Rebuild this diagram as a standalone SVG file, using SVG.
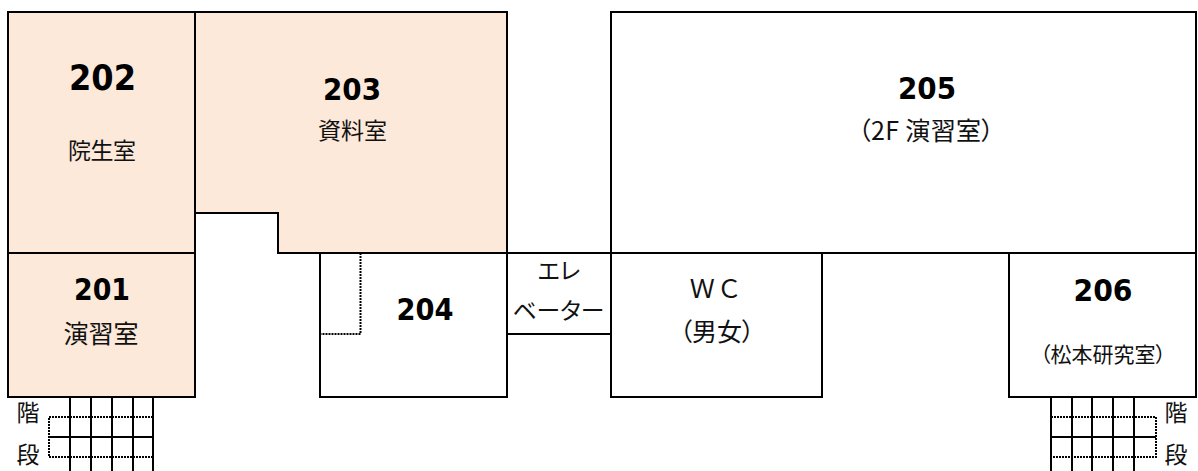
<svg xmlns="http://www.w3.org/2000/svg" width="1198" height="471" viewBox="0 0 1198 471">
<style>
.w{fill:none;stroke:#000;stroke-width:2}
.room{stroke:#000;stroke-width:2}
.f{fill:#fce9da}
.d{fill:none;stroke:#000;stroke-width:2;stroke-dasharray:2 1}
text{font-family:"DejaVu Sans","Noto Sans CJK JP",sans-serif;fill:#111;text-anchor:middle}
.b{font-weight:700;font-size:31px;fill:#000}
.j{font-family:"Noto Sans CJK JP",sans-serif;font-weight:400;font-size:23px;font-feature-settings:"palt"}
.k{font-size:25px}
</style>
<rect width="1198" height="471" fill="#fff"/>
<g id="room-202"><rect class="room f" x="8" y="12" width="187" height="241"/><text class="b" x="102.500" y="90" style="font-size:35px" textLength="67" lengthAdjust="spacingAndGlyphs">202</text><text class="j" x="102" y="159" textLength="68">院生室</text></g>
<g id="room-203"><path class="room f" d="M195 12H507V253H278V213H195Z"/><text class="b" x="352" y="100" textLength="58" lengthAdjust="spacingAndGlyphs">203</text><text class="j" x="352.500" y="139">資料室</text></g>
<g id="room-201"><rect class="room f" x="8" y="253" width="187" height="144"/><text class="b" x="102" y="300" textLength="56" lengthAdjust="spacingAndGlyphs">201</text><text class="j k" x="101" y="343">演習室</text></g>
<g id="room-204"><rect class="w" x="320" y="253" width="187" height="144"/><text class="b" x="425" y="320" textLength="57" lengthAdjust="spacingAndGlyphs">204</text></g>
<g id="elevator"><rect class="w" x="507" y="253" width="104" height="81"/><text class="j" x="559" y="279">エレ</text><text class="j" x="558.500" y="319" textLength="92" lengthAdjust="spacingAndGlyphs">ベーター</text></g>
<g id="room-205"><rect class="w" x="611" y="12" width="585" height="241"/><text class="b" x="927" y="99" textLength="58" lengthAdjust="spacingAndGlyphs">205</text><text class="j k" x="926" y="140" textLength="136">（2F 演習室）</text></g>
<g id="wc"><rect class="w" x="611" y="253" width="211" height="144"/><text class="j k" x="716" y="298" letter-spacing="4">ＷＣ</text><text class="j k" x="717" y="341">（男女）</text></g>
<g id="room-206"><rect class="w" x="1009" y="253" width="187" height="144"/><text class="b" x="1103" y="301" textLength="59" lengthAdjust="spacingAndGlyphs">206</text><text class="j" x="1103" y="362" style="font-size:21px">（松本研究室）</text></g>
<g id="structure">
<path class="d" d="M360.500 253V334H320"/>
<path class="w" d="M70 397V471M91 397V471M112 397V471M133 397V471M153 397V471M49 437H153"/>
<path class="d" d="M153 417H49V457H153"/>
<path class="w" d="M1051 397V471M1072 397V471M1092 397V471M1113 397V471M1134 397V471M1051 437H1156"/>
<path class="d" d="M1051 417H1156V457H1051"/>
</g>
<g id="stairs-labels"><text class="j" x="28" y="421">階</text><text class="j" x="28" y="463">段</text><text class="j" x="1176" y="421">階</text><text class="j" x="1176" y="463">段</text></g>
</svg>
